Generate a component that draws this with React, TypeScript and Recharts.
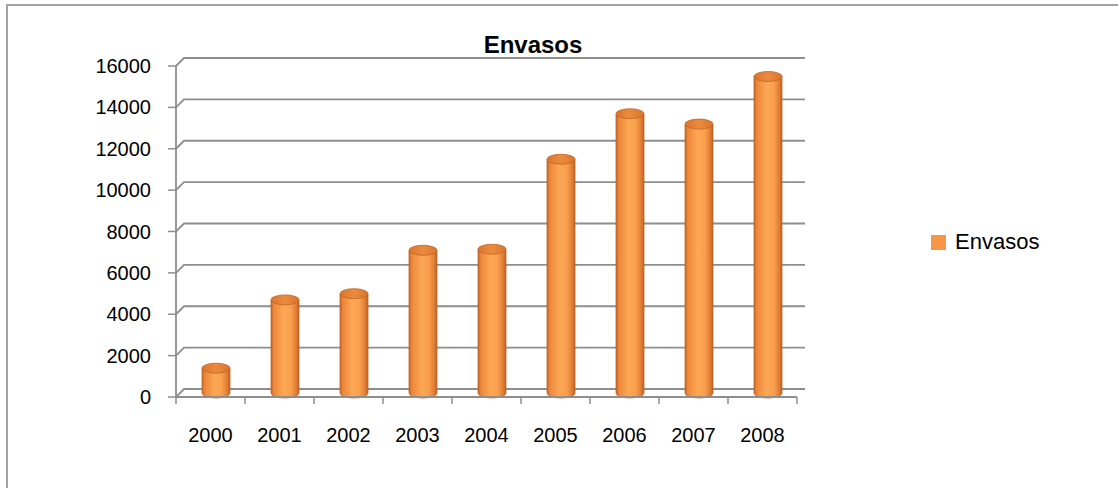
import { BarChart, Bar, XAxis, YAxis, CartesianGrid } from 'recharts'

const years = ['2000', '2001', '2002', '2003', '2004', '2005', '2006', '2007', '2008']
const envasos = [1200, 4500, 4800, 6900, 6950, 11300, 13500, 13000, 15300]
const yTicks = [0, 2000, 4000, 6000, 8000, 10000, 12000, 14000, 16000]
const seriesName = 'Envasos'

const data = years.map((year, i) => ({ year, envasos: envasos[i] }))

const orange = '#f79646'
const gridColor = '#8e8e8e'
const axisFont = '"Liberation Sans", Arial, sans-serif'
const depth = 8

function Cylinder(props: any) {
  const { x, y, width, height } = props
  if (!height || height <= 0) return null
  const left = x + 5
  const right = left + width
  const rx = width / 2
  const ry = 5
  const top = y - 4
  const bottom = y + height - 4
  return (
    <g>
      <path
        d={`M${left},${top} L${left},${bottom} A${rx},${ry} 0 0 0 ${right},${bottom} L${right},${top} Z`}
        fill="url(#cyl)"
        stroke="#c0662a"
        strokeWidth={0.8}
      />
      <ellipse cx={left + rx} cy={top} rx={rx} ry={ry} fill="url(#cylTop)" stroke="#c0662a" strokeWidth={0.8} />
    </g>
  )
}

function GridLine(props: any) {
  const { x1, x2, y1 } = props
  return (
    <path
      d={`M${x1},${y1} L${x1 + depth},${y1 - depth} L${x2 + depth},${y1 - depth}`}
      fill="none"
      stroke={gridColor}
      strokeWidth={1.8}
    />
  )
}

function XTick(props: any) {
  const { x, y, payload, index } = props
  const band = 69
  const axisY = y - 24 - 7
  return (
    <g>
      <line x1={x - band / 2} y1={axisY} x2={x - band / 2} y2={axisY + 7} stroke={gridColor} strokeWidth={1.5} />
      {index === years.length - 1 && (
        <line x1={x + band / 2} y1={axisY} x2={x + band / 2} y2={axisY + 7} stroke={gridColor} strokeWidth={1.5} />
      )}
      <text x={x} y={y} dy="0.71em" textAnchor="middle" fontSize={20} fontFamily={axisFont} fill="#000">
        {payload.value}
      </text>
    </g>
  )
}

export default function App() {
  return (
    <div style={{ position: 'relative', width: 1118, height: 488, background: '#fff', overflow: 'hidden' }}>
      <style>{'html, body { margin: 0; padding: 0; }'}</style>
      <div style={{ position: 'absolute', left: 0, top: 0 }}>
        <BarChart width={1118} height={488} data={data} margin={{ top: 66, right: 321, bottom: 61, left: 0 }} barSize={28}>
          <defs>
            <linearGradient id="cyl" x1="0" y1="0" x2="1" y2="0">
              <stop offset="0" stopColor="#c2642a" />
              <stop offset="0.1" stopColor="#ee873b" />
              <stop offset="0.45" stopColor="#fca753" />
              <stop offset="0.7" stopColor="#f99f4e" />
              <stop offset="0.9" stopColor="#e07d33" />
              <stop offset="1" stopColor="#b9612a" />
            </linearGradient>
            <linearGradient id="cylTop" x1="0" y1="0" x2="1" y2="0">
              <stop offset="0" stopColor="#d8762f" />
              <stop offset="0.5" stopColor="#ec8a3c" />
              <stop offset="1" stopColor="#d8762f" />
            </linearGradient>
          </defs>
          <CartesianGrid vertical={false} horizontal={(p: any) => <GridLine key={p.key} {...p} />} />
          <XAxis
            dataKey="year"
            height={30}
            tickLine={false}
            tickSize={7}
            tickMargin={24}
            axisLine={{ stroke: gridColor, strokeWidth: 1.8 }}
            tick={<XTick />}
            interval={0}
          />
          <YAxis
            width={176}
            domain={[0, 16000]}
            ticks={yTicks}
            interval={0}
            tickSize={8}
            tickMargin={17}
            tickLine={{ stroke: gridColor, strokeWidth: 1.5 }}
            axisLine={{ stroke: gridColor, strokeWidth: 1.8 }}
            tick={{ fontSize: 20, fontFamily: axisFont, fill: '#000' }}
          />
          <Bar dataKey="envasos" name={seriesName} fill={orange} shape={<Cylinder />} isAnimationActive={false} />
        </BarChart>
      </div>
      <div
        style={{
          position: 'absolute',
          left: 433,
          width: 200,
          top: 33,
          textAlign: 'center',
          fontFamily: axisFont,
          fontWeight: 'bold',
          fontSize: 24,
          lineHeight: '24px',
        }}
      >
        Envasos
      </div>
      <div
        style={{
          position: 'absolute',
          left: 931,
          top: 229,
          display: 'flex',
          alignItems: 'center',
          fontFamily: axisFont,
          fontSize: 22,
          lineHeight: '26px',
          color: '#000',
        }}
      >
        <span style={{ display: 'inline-block', width: 15, height: 15, background: orange, marginRight: 9 }} />
        <span>{seriesName}</span>
      </div>
      <div
        style={{
          position: 'absolute',
          left: 6,
          top: 4,
          width: 1130,
          height: 500,
          borderTop: '2px solid #a3a3a3',
          borderLeft: '2px solid #a3a3a3',
          boxSizing: 'border-box',
          pointerEvents: 'none',
        }}
      />
    </div>
  )
}
